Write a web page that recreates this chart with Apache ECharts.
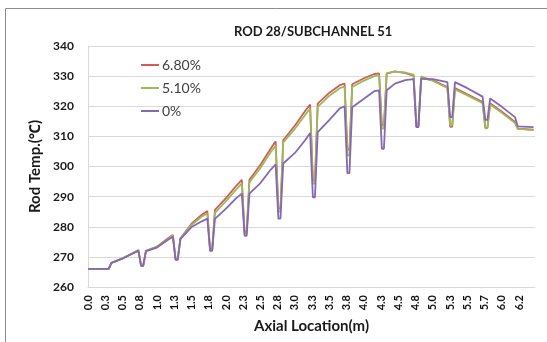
<!DOCTYPE html>
<html>
<head>
<meta charset="utf-8">
<script src="https://cdn.jsdelivr.net/npm/echarts@6/dist/echarts.min.js"></script>
<style>
html,body{margin:0;padding:0;background:#fff;}
#chart{width:547px;height:342px;}
</style>
</head>
<body>
<div id="chart"></div>
<script>
// Axial location (m)
var xPos = [0,0.30,0.34,0.50,0.65,0.73,0.77,0.80,0.84,1.00,1.15,1.23,1.27,1.30,1.34,1.50,1.65,1.73,1.77,1.80,1.84,2.00,2.15,2.23,2.27,2.30,2.34,2.50,2.65,2.72,2.76,2.79,2.83,3.00,3.15,3.22,3.26,3.29,3.33,3.50,3.65,3.72,3.76,3.79,3.83,4.00,4.15,4.22,4.26,4.29,4.33,4.45,4.60,4.72,4.76,4.79,4.83,5.00,5.21,5.25,5.28,5.32,5.50,5.72,5.76,5.79,5.83,6.00,6.19,6.23,6.46];
// Rod temperature (C)
var temp680 = [266,266,268,269.5,271.3,272.3,267,267,272,273.4,276,277.3,269.2,269.2,276.2,281,284,285.2,272.3,272.3,285.6,289.5,293.6,295.6,278.2,278.2,295.6,300.6,306,308.4,286,286,308.7,313.6,318.5,320.6,295.4,295.4,320.9,324.5,327,327.5,305.6,305.6,327.3,329.3,330.7,330.9,313.7,313.7,330.8,331.6,331,330.2,313.1,313.1,329.3,328.6,326.4,313.2,313.2,326,324,321.4,312.8,312.8,321,318.2,314.8,312.6,312.2];
var temp510 = [266,266,268,269.5,271.2,272.2,267,267,272,273.3,275.8,277.1,269.1,269.1,276.1,280.6,283.4,284.4,272.2,272.2,284.6,288.5,292.4,294.4,277.7,277.7,294.8,299.5,304.8,307,285,285,308,312.5,317.2,319.2,294.3,294.3,319.8,323.5,326,326.5,303.7,303.7,326.4,328.5,330,330.3,312.6,312.6,331,331.5,331.2,330.5,314,314,329.9,328.4,326.1,313.6,313.6,325.6,323.6,321,312.7,312.7,320.6,317.8,314.4,312.5,312.1];
var temp0 = [266,266,268,269.4,271.1,272,267,267,271.9,273.1,275.5,276.7,269,269,275.9,279.9,281.8,282.7,272,272,282.6,286,289.5,291,277,277,291,294.5,299,300.7,282.7,282.7,301,304.5,308.8,311.1,289.8,289.8,311.4,315.5,319.3,320,297.8,297.8,319.7,322.5,325,325.3,305.9,305.9,325.3,327.5,328.7,329,313.1,313.1,329.2,329,328,316.4,316.4,328,326,323.2,315.5,315.5,322.6,319.8,316.4,313.3,313.1];
var seriesNames = ['6.80%','5.10%','0%'];
var xTickLabels = ['0.0','0.3','0.5','0.8','1.0','1.3','1.5','1.8','2.0','2.3','2.5','2.8','3.0','3.3','3.5','3.8','4.0','4.3','4.5','4.8','5.0','5.3','5.5','5.7','6.0','6.2'];

function pairs(ys){ return xPos.map(function(x,i){ return [x, ys[i]]; }); }

var FONT = 'Lato, "Noto Sans", "DejaVu Sans", sans-serif';
var chart = echarts.init(document.getElementById('chart'), null, {renderer:'canvas'});
var colors = ['#d35c58','#9bbb59','#8468b4'];
var data = [temp680, temp510, temp0];

chart.setOption({
  animation: false,
  backgroundColor: '#ffffff',
  title: {
    text: 'ROD 28/SUBCHANNEL 51',
    left: 229, top: 20,
    textStyle: {fontFamily: FONT, fontWeight: 'bold', fontSize: 13, color: '#1a1a1a'}
  },
  graphic: [{
    type: 'rect', silent: true, z: -1,
    shape: {x: 5.5, y: 8.5, width: 700, height: 500},
    style: {fill: 'none', stroke: '#8c8c8c', lineWidth: 1}
  }],
  legend: {
    orient: 'vertical', left: 136, top: 52,
    itemWidth: 18, itemHeight: 2, itemGap: 7,
    icon: 'rect',
    data: seriesNames,
    textStyle: {fontFamily: FONT, fontSize: 14, color: '#404040', lineHeight: 16, padding: [0,0,0,-2]}
  },
  grid: {left: 88, right: 12, top: 46, bottom: 55},
  xAxis: {
    type: 'value', min: 0, max: 6.48, interval: 0.25,
    name: 'Axial Location(m)', nameLocation: 'middle', nameGap: 30,
    nameTextStyle: {fontFamily: FONT, fontWeight: 'bold', fontSize: 15, color: '#1a1a1a'},
    axisLine: {show: true, lineStyle: {color: '#d9d9d9'}},
    axisTick: {show: false},
    splitLine: {show: false},
    axisLabel: {
      rotate: 90, margin: 8, showMaxLabel: false,
      fontFamily: FONT, fontWeight: 'bold', fontSize: 11, color: '#111',
      formatter: function(v){ var k = Math.round(v/0.25); return (Math.abs(v - k*0.25) < 1e-6 && xTickLabels[k]) ? xTickLabels[k] : ''; }
    }
  },
  yAxis: {
    type: 'value', min: 260, max: 340, interval: 10,
    name: 'Rod Temp.(℃)', nameLocation: 'middle', nameGap: 42,
    nameTextStyle: {fontFamily: FONT, fontWeight: 'bold', fontSize: 15, color: '#1a1a1a'},
    axisLine: {show: true, lineStyle: {color: '#d9d9d9'}},
    axisTick: {show: false},
    splitLine: {show: true, lineStyle: {color: '#d9d9d9', width: 1}},
    axisLabel: {margin: 14, fontFamily: FONT, fontWeight: 'bold', fontSize: 12, color: '#1a1a1a'}
  },
  series: seriesNames.map(function(n, i){
    return {
      name: n, type: 'line', data: pairs(data[i]),
      showSymbol: false, symbol: 'none',
      lineStyle: {width: 1.8, color: colors[i]},
      itemStyle: {color: colors[i]},
      z: 2 + i
    };
  })
});
</script>
</body>
</html>
